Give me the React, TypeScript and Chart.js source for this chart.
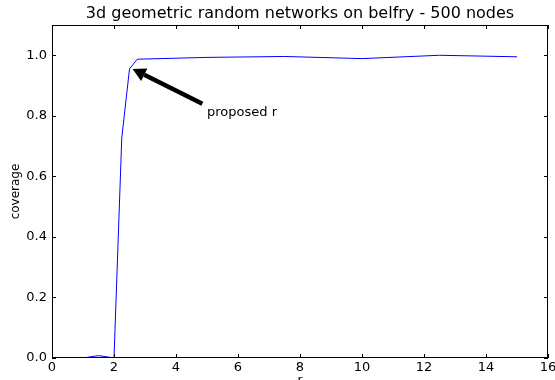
import React, { useEffect, useRef } from "react";
import { Chart, registerables } from "chart.js";

Chart.register(...registerables);

const TITLE = "3d geometric random networks on belfry - 500 nodes";
const X_LABEL = "r";
const Y_LABEL = "coverage";

const rValues = [1, 1.5, 2, 2.25, 2.5, 2.75, 5, 7.5, 10, 12.5, 15];
const coverageValues = [0, 0.008, 0, 0.727, 0.955, 0.987, 0.993, 0.996, 0.989, 1.0, 0.995];

const xTicks = [0, 2, 4, 6, 8, 10, 12, 14, 16];
const yTicks = [0, 0.2, 0.4, 0.6, 0.8, 1.0];

const annotationText = "proposed r";
const arrowTip = { x: 2.6, y: 0.955 };
const arrowTail = { x: 4.85, y: 0.84 };
const textPos = { x: 5, y: 0.8 };

const FONT = "'DejaVu Sans', sans-serif";

const decorPlugin = {
  id: "decor",
  afterDraw(chart: any) {
    const ctx = chart.ctx;
    const { left, right, top, bottom } = chart.chartArea;
    const xs = chart.scales.x;
    const ys = chart.scales.y;
    ctx.save();
    // frame
    ctx.strokeStyle = "#000";
    ctx.lineWidth = 1;
    ctx.strokeRect(Math.round(left) + 0.5, Math.round(top) + 0.5, Math.round(right - left) - 1, Math.round(bottom - top) - 1);
    // inward ticks
    const tl = 4;
    ctx.beginPath();
    xTicks.forEach((v) => {
      const px = Math.round(xs.getPixelForValue(v)) + 0.5;
      ctx.moveTo(px, bottom);
      ctx.lineTo(px, bottom - tl);
      ctx.moveTo(px, top);
      ctx.lineTo(px, top + tl);
    });
    yTicks.forEach((v) => {
      const py = Math.round(ys.getPixelForValue(v)) + 0.5;
      ctx.moveTo(left, py);
      ctx.lineTo(left + tl, py);
      ctx.moveTo(right, py);
      ctx.lineTo(right - tl, py);
    });
    ctx.stroke();

    // title
    ctx.fillStyle = "#000";
    ctx.font = `16px ${FONT}`;
    ctx.textAlign = "center";
    ctx.textBaseline = "middle";
    ctx.fillText(TITLE, (left + right) / 2, 14);

    // axis labels
    ctx.font = `12px ${FONT}`;
    ctx.textBaseline = "top";
    ctx.fillText(X_LABEL, (left + right) / 2, 375);
    ctx.save();
    ctx.translate(16, (top + bottom) / 2);
    ctx.rotate(-Math.PI / 2);
    ctx.textBaseline = "middle";
    ctx.fillText(Y_LABEL, 0, 0);
    ctx.restore();

    // annotation arrow
    const tx = xs.getPixelForValue(arrowTip.x);
    const ty = ys.getPixelForValue(arrowTip.y);
    const sx = xs.getPixelForValue(arrowTail.x);
    const sy = ys.getPixelForValue(arrowTail.y);
    const ang = Math.atan2(ty - sy, tx - sx);
    const headLen = 13;
    const headW = 7;
    const bx = tx - headLen * Math.cos(ang);
    const by = ty - headLen * Math.sin(ang);
    ctx.strokeStyle = "#000";
    ctx.lineWidth = 4.5;
    ctx.beginPath();
    ctx.moveTo(sx, sy);
    ctx.lineTo(bx, by);
    ctx.stroke();
    ctx.beginPath();
    ctx.moveTo(tx, ty);
    ctx.lineTo(bx + headW * Math.sin(ang), by - headW * Math.cos(ang));
    ctx.lineTo(bx - headW * Math.sin(ang), by + headW * Math.cos(ang));
    ctx.closePath();
    ctx.fill();

    // annotation text
    ctx.font = `13px ${FONT}`;
    ctx.textAlign = "left";
    ctx.textBaseline = "alphabetic";
    ctx.fillText(annotationText, xs.getPixelForValue(textPos.x), ys.getPixelForValue(textPos.y));
    ctx.restore();
  },
};

export default function App() {
  const canvasRef = useRef<HTMLCanvasElement | null>(null);

  useEffect(() => {
    document.body.style.margin = "0";
    const canvas = canvasRef.current;
    if (!canvas) return;
    const chart = new Chart(canvas, {
      type: "line",
      data: {
        datasets: [
          {
            data: rValues.map((x, i) => ({ x, y: coverageValues[i] })),
            borderColor: "#0000ff",
            borderWidth: 1,
            pointRadius: 0,
            tension: 0,
            fill: false,
          },
        ],
      },
      options: {
        animation: false,
        responsive: false,
        maintainAspectRatio: false,
        layout: { padding: { top: 25, right: 7, left: 0, bottom: 0 } },
        plugins: {
          legend: { display: false },
          title: { display: false },
          tooltip: { enabled: false },
        },
        scales: {
          x: {
            type: "linear",
            min: 0,
            max: 16,
            grid: { display: false, drawTicks: false },
            border: { display: false },
            afterBuildTicks: (s: any) => {
              s.ticks = xTicks.map((v) => ({ value: v }));
            },
            afterFit: (s: any) => {
              s.height = 22;
              s.paddingLeft = 0;
              s.paddingRight = 0;
            },
            ticks: {
              padding: 2,
              maxRotation: 0,
              autoSkip: false,
              color: "#000",
              font: { family: FONT, size: 13 },
              callback: (v: any) => String(v),
            },
          },
          y: {
            type: "linear",
            min: 0,
            max: 1.1,
            grid: { display: false, drawTicks: false },
            border: { display: false },
            afterBuildTicks: (s: any) => {
              s.ticks = yTicks.map((v) => ({ value: v }));
            },
            afterFit: (s: any) => {
              s.width = 52;
              s.paddingTop = 0;
              s.paddingBottom = 0;
            },
            ticks: {
              padding: 5,
              autoSkip: false,
              color: "#000",
              font: { family: FONT, size: 13 },
              callback: (v: any) => Number(v).toFixed(1),
            },
          },
        },
      },
      plugins: [decorPlugin],
    });
    return () => chart.destroy();
  }, []);

  return (
    <div style={{ width: 555, height: 380 }}>
      <canvas ref={canvasRef} width={555} height={380} style={{ display: "block" }} />
    </div>
  );
}
